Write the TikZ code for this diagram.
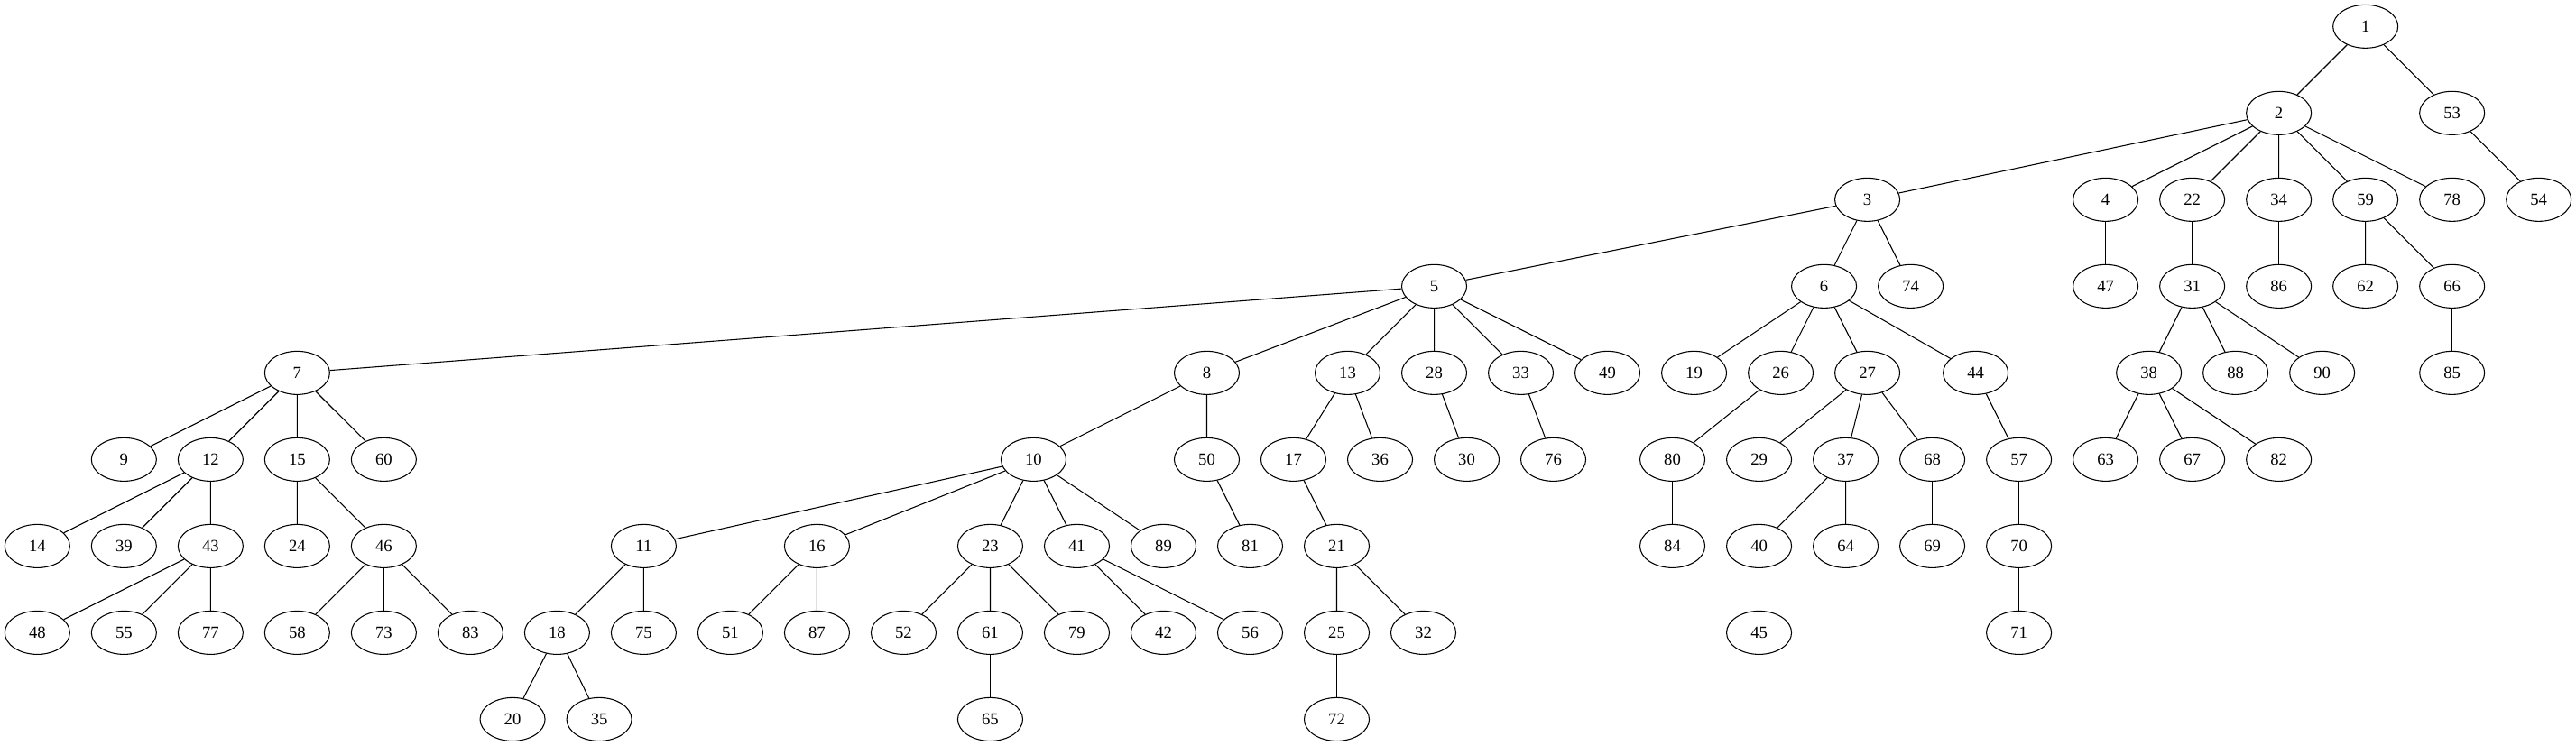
\documentclass[tikz,border=0pt]{standalone}
\usepackage{fontspec}
\setmainfont{Liberation Serif}
\usepackage{tikz}
\usetikzlibrary{shapes.geometric}

\begin{document}
\begin{tikzpicture}[x=1pt,y=1pt,line width=0.8pt,
treenode/.style={
  draw=black,
  ellipse,
  inner sep=0pt,
  minimum width=54pt,
  minimum height=36pt,
  font={\fontsize{14}{16}\selectfont}},
]
\useasboundingbox (0,0) rectangle (2141,620);
% rank 0 - 2
\node[treenode] (n1) at (1966,598) {1};
\node[treenode] (n2) at (1894,526) {2};
\node[treenode] (n53) at (2038,526) {53};
\node[treenode] (n3) at (1552,454) {3};
\node[treenode] (n4) at (1750,454) {4};
\node[treenode] (n22) at (1822,454) {22};
\node[treenode] (n34) at (1894,454) {34};
\node[treenode] (n59) at (1966,454) {59};
\node[treenode] (n78) at (2038,454) {78};
\node[treenode] (n54) at (2110,454) {54};
% rank 3
\node[treenode] (n5) at (1192,382) {5};
\node[treenode] (n6) at (1516,382) {6};
\node[treenode] (n74) at (1588,382) {74};
\node[treenode] (n47) at (1750,382) {47};
\node[treenode] (n31) at (1822,382) {31};
\node[treenode] (n86) at (1894,382) {86};
\node[treenode] (n62) at (1966,382) {62};
\node[treenode] (n66) at (2038,382) {66};
% rank 4
\node[treenode] (n7) at (247,310) {7};
\node[treenode] (n8) at (1003,310) {8};
\node[treenode] (n13) at (1120,310) {13};
\node[treenode] (n28) at (1192,310) {28};
\node[treenode] (n33) at (1264,310) {33};
\node[treenode] (n49) at (1336,310) {49};
\node[treenode] (n19) at (1408,310) {19};
\node[treenode] (n26) at (1480,310) {26};
\node[treenode] (n27) at (1552,310) {27};
\node[treenode] (n44) at (1642,310) {44};
\node[treenode] (n38) at (1786,310) {38};
\node[treenode] (n88) at (1858,310) {88};
\node[treenode] (n90) at (1930,310) {90};
\node[treenode] (n85) at (2038,310) {85};
% rank 5
\node[treenode] (n9) at (103,238) {9};
\node[treenode] (n12) at (175,238) {12};
\node[treenode] (n15) at (247,238) {15};
\node[treenode] (n60) at (319,238) {60};
\node[treenode] (n10) at (859,238) {10};
\node[treenode] (n50) at (1003,238) {50};
\node[treenode] (n17) at (1075,238) {17};
\node[treenode] (n36) at (1147,238) {36};
\node[treenode] (n30) at (1219,238) {30};
\node[treenode] (n76) at (1291,238) {76};
\node[treenode] (n80) at (1390,238) {80};
\node[treenode] (n29) at (1462,238) {29};
\node[treenode] (n37) at (1534,238) {37};
\node[treenode] (n68) at (1606,238) {68};
\node[treenode] (n57) at (1678,238) {57};
\node[treenode] (n63) at (1750,238) {63};
\node[treenode] (n67) at (1822,238) {67};
\node[treenode] (n82) at (1894,238) {82};
% rank 6
\node[treenode] (n14) at (31,166) {14};
\node[treenode] (n39) at (103,166) {39};
\node[treenode] (n43) at (175,166) {43};
\node[treenode] (n24) at (247,166) {24};
\node[treenode] (n46) at (319,166) {46};
\node[treenode] (n11) at (535,166) {11};
\node[treenode] (n16) at (679,166) {16};
\node[treenode] (n23) at (823,166) {23};
\node[treenode] (n41) at (895,166) {41};
\node[treenode] (n89) at (967,166) {89};
\node[treenode] (n81) at (1039,166) {81};
\node[treenode] (n21) at (1111,166) {21};
\node[treenode] (n84) at (1390,166) {84};
\node[treenode] (n40) at (1462,166) {40};
\node[treenode] (n64) at (1534,166) {64};
\node[treenode] (n69) at (1606,166) {69};
\node[treenode] (n70) at (1678,166) {70};
% rank 7
\node[treenode] (n48) at (31,94) {48};
\node[treenode] (n55) at (103,94) {55};
\node[treenode] (n77) at (175,94) {77};
\node[treenode] (n58) at (247,94) {58};
\node[treenode] (n73) at (319,94) {73};
\node[treenode] (n83) at (391,94) {83};
\node[treenode] (n18) at (463,94) {18};
\node[treenode] (n75) at (535,94) {75};
\node[treenode] (n51) at (607,94) {51};
\node[treenode] (n87) at (679,94) {87};
\node[treenode] (n52) at (751,94) {52};
\node[treenode] (n61) at (823,94) {61};
\node[treenode] (n79) at (895,94) {79};
\node[treenode] (n42) at (967,94) {42};
\node[treenode] (n56) at (1039,94) {56};
\node[treenode] (n25) at (1111,94) {25};
\node[treenode] (n32) at (1183,94) {32};
\node[treenode] (n45) at (1462,94) {45};
\node[treenode] (n71) at (1678,94) {71};
% rank 8
\node[treenode] (n20) at (426,22) {20};
\node[treenode] (n35) at (498,22) {35};
\node[treenode] (n65) at (823,22) {65};
\node[treenode] (n72) at (1111,22) {72};

% edges
\draw (n1) -- (n2) (n1) -- (n53);
\draw (n2) -- (n3) (n2) -- (n4) (n2) -- (n22) (n2) -- (n34) (n2) -- (n59) (n2) -- (n78);
\draw (n53) -- (n54);
\draw (n3) -- (n5) (n3) -- (n6) (n3) -- (n74);
\draw (n4) -- (n47);
\draw (n22) -- (n31);
\draw (n34) -- (n86);
\draw (n59) -- (n62) (n59) -- (n66);
\draw (n5) -- (n7) (n5) -- (n8) (n5) -- (n13) (n5) -- (n28) (n5) -- (n33) (n5) -- (n49);
\draw (n6) -- (n19) (n6) -- (n26) (n6) -- (n27) (n6) -- (n44);
\draw (n31) -- (n38) (n31) -- (n88) (n31) -- (n90);
\draw (n66) -- (n85);
\draw (n7) -- (n9) (n7) -- (n12) (n7) -- (n15) (n7) -- (n60);
\draw (n8) -- (n10) (n8) -- (n50);
\draw (n13) -- (n17) (n13) -- (n36);
\draw (n28) -- (n30);
\draw (n33) -- (n76);
\draw (n26) -- (n80);
\draw (n27) -- (n29) (n27) -- (n37) (n27) -- (n68);
\draw (n44) -- (n57);
\draw (n38) -- (n63) (n38) -- (n67) (n38) -- (n82);
\draw (n12) -- (n14) (n12) -- (n39) (n12) -- (n43);
\draw (n15) -- (n24) (n15) -- (n46);
\draw (n10) -- (n11) (n10) -- (n16) (n10) -- (n23) (n10) -- (n41) (n10) -- (n89);
\draw (n50) -- (n81);
\draw (n17) -- (n21);
\draw (n80) -- (n84);
\draw (n37) -- (n40) (n37) -- (n64);
\draw (n68) -- (n69);
\draw (n57) -- (n70);
\draw (n43) -- (n48) (n43) -- (n55) (n43) -- (n77);
\draw (n46) -- (n58) (n46) -- (n73) (n46) -- (n83);
\draw (n11) -- (n18) (n11) -- (n75);
\draw (n16) -- (n51) (n16) -- (n87);
\draw (n23) -- (n52) (n23) -- (n61) (n23) -- (n79);
\draw (n41) -- (n42) (n41) -- (n56);
\draw (n21) -- (n25) (n21) -- (n32);
\draw (n40) -- (n45);
\draw (n70) -- (n71);
\draw (n18) -- (n20) (n18) -- (n35);
\draw (n61) -- (n65);
\draw (n25) -- (n72);
\end{tikzpicture}
\end{document}
